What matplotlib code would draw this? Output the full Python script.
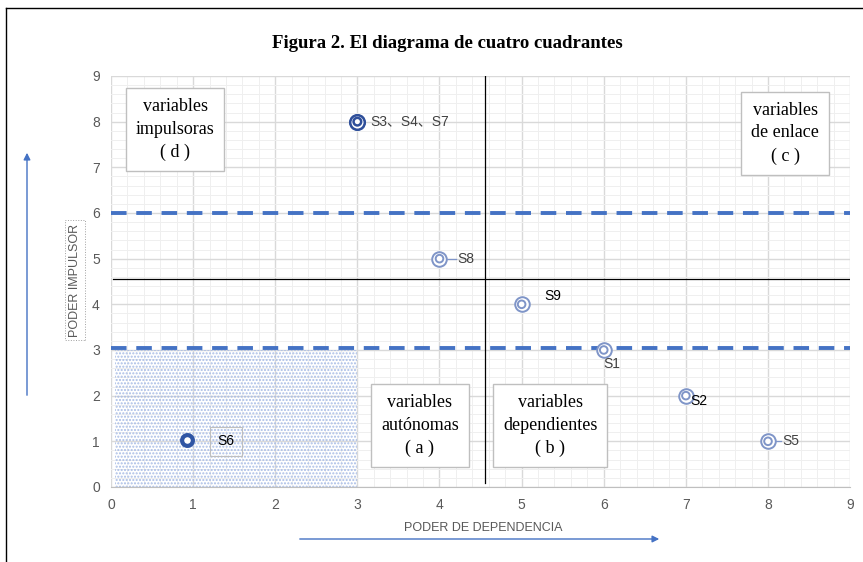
import matplotlib.pyplot as plt
from matplotlib.patches import Rectangle, FancyArrowPatch
from matplotlib.ticker import MultipleLocator

# datos
labels = ['S1', 'S2', 'S3、S4、S7', 'S5', 'S8', 'S9']
dependencia = [6, 7, 3, 8, 4, 5]
impulsor = [3, 2, 8, 1, 5, 4]
s6_x, s6_y = 0.93, 1.03
corte_x = 4.55
corte_y = 4.55
umbral_alto = 6.0
umbral_bajo = 3.05

plt.rcParams['font.family'] = ['Liberation Sans', 'Noto Sans CJK SC', 'DejaVu Sans']

fig = plt.figure(figsize=(8.63, 5.62), dpi=100)
ax = fig.add_axes([0.1286, 0.1335, 0.8565, 0.7313])
ax.set_xlim(0, 9)
ax.set_ylim(0, 9)
ax.xaxis.set_major_locator(MultipleLocator(1))
ax.yaxis.set_major_locator(MultipleLocator(1))
ax.xaxis.set_minor_locator(MultipleLocator(0.2))
ax.yaxis.set_minor_locator(MultipleLocator(0.2))
ax.grid(which='major', color='#d9d9d9', lw=1.0)
ax.grid(which='minor', color='#efefef', lw=0.7)
ax.set_axisbelow(True)
for s in ['top', 'right', 'left']:
    ax.spines[s].set_visible(False)
ax.spines['bottom'].set_color('#bfbfbf')
ax.tick_params(which='both', length=0, colors='#595959', labelsize=10, pad=8)

# zona sombreada
ax.add_patch(Rectangle((0.05, 0), 2.95, 3.0, fill=False, hatch='.....',
                       edgecolor='#a9bde6', lw=0, zorder=1))

# lineas de corte
ax.axvline(corte_x, ymin=0.01, ymax=1, color='black', lw=0.9, zorder=2)
ax.axhline(corte_y, xmin=0.003, xmax=1, color='black', lw=0.9, zorder=2)
ax.axhline(umbral_alto, color='#4472c4', lw=2.8, ls=(0, (4, 2.5)), zorder=3)
ax.axhline(umbral_bajo, color='#4472c4', lw=2.8, ls=(0, (4, 2.5)), zorder=3)

# puntos
ax.scatter(dependencia, impulsor, s=110, facecolors='white', edgecolors='#7f95c8', lw=1.4, zorder=5)
ax.scatter(dependencia, impulsor, s=30, facecolors='none', edgecolors='#7f95c8', lw=1.4, zorder=6)
ax.scatter([3], [8], s=110, facecolors='white', edgecolors='#2f4f9a', lw=1.8, zorder=7)
ax.scatter([3], [8], s=30, facecolors='none', edgecolors='#2f4f9a', lw=1.8, zorder=8)
ax.scatter([s6_x], [s6_y], s=60, facecolors='white', edgecolors='#2f55a4', lw=3, zorder=7)

etiquetas = {
    'S3、S4、S7': (3.16, 8.0),
    'S8': (4.22, 5.0),
    'S9': (5.28, 4.18),
    'S1': (6.0, 2.7),
    'S2': (7.05, 1.88),
    'S5': (8.18, 1.0),
}
for lab, (tx, ty) in etiquetas.items():
    col = 'black' if lab in ('S9', 'S2') else '#404040'
    ax.text(tx, ty, lab, ha='left', va='center', fontsize=10, color=col, zorder=9)
ax.plot([4.08, 4.2], [5, 5], color='#7f95c8', lw=0.9, zorder=4)
ax.plot([8.08, 8.16], [1, 1], color='#7f95c8', lw=0.9, zorder=4)

ax.text(1.4, 1.0, 'S6', ha='center', va='center', fontsize=10, zorder=9,
        bbox=dict(boxstyle='square,pad=0.55', fc='none', ec='#bfbfbf', lw=0.8))

# cuadros de texto
cuadros = [
    ('variables\nimpulsoras\n( d )', 0.78, 7.82),
    ('variables\nde enlace\n( c )', 8.21, 7.75),
    ('variables\nautónomas\n( a )', 3.76, 1.34),
    ('variables\ndependientes\n( b )', 5.35, 1.34),
]
for txt, bx, by in cuadros:
    ax.text(bx, by, txt, ha='center', va='center', fontsize=13,
            family='Liberation Serif', linespacing=1.45, zorder=10,
            bbox=dict(boxstyle='square,pad=0.55', fc='white', ec='#bfbfbf', lw=1))

# titulo
fig.text(447 / 863, 1 - 44 / 562, 'Figura 2. El diagrama de cuatro cuadrantes', ha='center', va='center',
         fontsize=13.5, family='Liberation Serif', weight='bold')

# etiquetas de ejes
fig.text(483 / 863, 1 - 528 / 562, 'PODER DE DEPENDENCIA', ha='center', va='center',
         fontsize=9, color='#595959')
fig.text(75 / 863, 1 - 280 / 562, 'PODER IMPULSOR', ha='center', va='center', rotation=90,
         fontsize=9, color='#595959',
         bbox=dict(boxstyle='square,pad=0.3', fc='none', ec='#a0a0a0', lw=0.7, ls=':'))

fig.patches.append(FancyArrowPatch((297 / 863, 1 - 539 / 562), (662 / 863, 1 - 539 / 562),
                                   transform=fig.transFigure, arrowstyle='-|>', mutation_scale=10,
                                   color='#4472c4', lw=1))
fig.patches.append(FancyArrowPatch((27 / 863, 1 - 398 / 562), (27 / 863, 1 - 150 / 562),
                                   transform=fig.transFigure, arrowstyle='-|>', mutation_scale=10,
                                   color='#4472c4', lw=1))

# marco
fig.add_artist(plt.Line2D([6 / 863, 6 / 863], [0, 1 - 8 / 562], transform=fig.transFigure,
                          color='black', lw=1))
fig.add_artist(plt.Line2D([6 / 863, 1], [1 - 8 / 562, 1 - 8 / 562], transform=fig.transFigure,
                          color='black', lw=1))

fig.savefig('out.png', dpi=100)
